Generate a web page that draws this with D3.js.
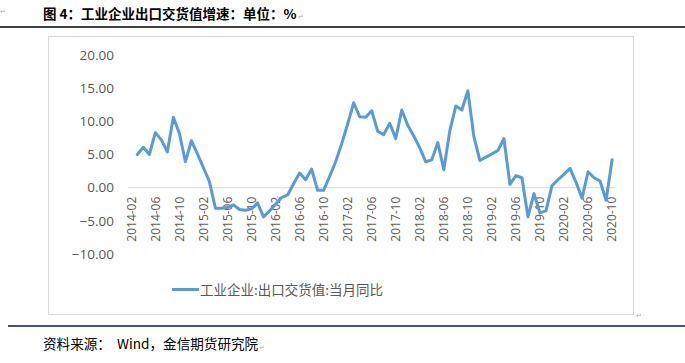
<!DOCTYPE html>
<html><head><meta charset="utf-8">
<script src="https://cdn.jsdelivr.net/npm/d3@7"></script>
<style>body{margin:0;background:#fff}svg{display:block}</style>
</head><body><svg id="c" width="685" height="363"></svg>
<script>
const titleText = "图 4：工业企业出口交货值增速：单位：%";
const sourceText = "资料来源：  Wind，金信期货研究院";
const seriesName = "工业企业:出口交货值:当月同比";
const categories = d3.timeMonths(new Date(2014,1,1), new Date(2020,10,1)).map(d3.timeFormat("%Y-%m"));
const tickLabels = ["2014-02","2014-06","2014-10","2015-02","2015-06","2015-10","2016-02","2016-06","2016-10",
  "2017-02","2017-06","2017-10","2018-02","2018-06","2018-10","2019-02","2019-06","2019-10","2020-02","2020-06","2020-10"];
const yTicks = [-10,-5,0,5,10,15,20];
const values = [null,5.0,6.1,5.0,8.3,7.2,5.4,10.6,8.2,3.9,7.1,5.1,3.0,0.9,-3.1,-3.1,-3.0,-2.6,-3.3,-3.4,-3.2,-2.3,-4.4,-3.5,
  -2.5,-1.5,-1.1,0.6,2.2,1.2,2.8,-0.4,-0.4,1.7,3.9,6.6,9.6,12.8,10.7,10.6,11.6,8.5,8.0,9.7,7.4,11.7,9.4,7.8,
  6.0,3.9,4.2,6.8,2.7,8.6,12.3,11.7,14.6,7.7,4.1,4.6,5.1,5.6,7.4,0.5,1.8,1.5,-4.4,-0.9,-3.8,-3.5,0.3,1.2,
  2.0,2.9,0.8,-1.6,2.4,1.5,1.0,-1.9,4.2];

const svg = d3.select("#c");
const font = "'Noto Sans CJK SC', 'Open Sans', sans-serif";
const gray = "#595959";

function mark(xp, yp){
  svg.append("text").attr("x",xp).attr("y",yp).attr("font-size",7).attr("fill","#aaa").attr("font-family",font).text("↵");
}

// top rule and title
svg.append("line").attr("x1",0).attr("x2",685).attr("y1",27).attr("y2",27).attr("stroke","#000").attr("stroke-width",1.5);
const title = svg.append("text").attr("x",43).attr("y",19).attr("font-family",font).attr("font-weight",700)
  .attr("font-size",13.5).attr("fill","#000").attr("xml:space","preserve").style("white-space","pre").text(titleText);
mark(43 + title.node().getComputedTextLength() + 1, 19);
mark(0, 14);

// chart frame
svg.append("rect").attr("x",48.5).attr("y",36.5).attr("width",585).attr("height",278)
  .attr("fill","#fff").attr("stroke","#d9d9d9").attr("stroke-width",1);
mark(636, 318);

const x = d3.scaleBand().domain(categories).range([128.3,615.1]).padding(0);
const y = d3.scaleLinear().domain([-10,20]).range([254,55]);
const cx = c => x(c) + x.bandwidth()/2;

// y axis labels
const yAxis = d3.axisLeft(y).tickValues(yTicks).tickFormat(d3.format(".2f")).tickSize(0).tickPadding(0);
const gy = svg.append("g").attr("transform","translate(114,0)").call(yAxis);
gy.select(".domain").remove();
gy.selectAll("text").attr("font-family","'Open Sans', sans-serif").attr("font-size",13.5).attr("fill",gray);

// zero axis line
svg.append("line").attr("x1",x.range()[0]).attr("x2",x.range()[1]).attr("y1",y(0)).attr("y2",y(0))
  .attr("stroke","#d9d9d9").attr("stroke-width",1);

// x labels
const xAxis = d3.axisBottom(x).tickValues(tickLabels).tickSize(0).tickPadding(0);
const gx = svg.append("g").attr("transform",`translate(0,${y(0)})`).call(xAxis);
gx.select(".domain").remove();
gx.selectAll("text").attr("font-family","'Open Sans', sans-serif").attr("font-size",12).attr("fill",gray)
  .attr("transform","translate(0,9) rotate(-90)").attr("text-anchor","end").attr("dy","0.35em").attr("y",0).attr("x",0);

// series line
const line = d3.line().defined(d => d.v != null).x(d => cx(d.c)).y(d => y(d.v));
const data = categories.map((c,i) => ({c, v: values[i]}));
svg.append("path").datum(data).attr("d",line).attr("fill","none").attr("stroke","#5B9BD5")
  .attr("stroke-width",3).attr("stroke-linejoin","round").attr("stroke-linecap","round");

// legend
svg.append("line").attr("x1",172).attr("x2",199).attr("y1",289.5).attr("y2",289.5).attr("stroke","#5B9BD5").attr("stroke-width",3);
svg.append("text").attr("x",200).attr("y",294.5).attr("font-family",font).attr("font-size",13.5).attr("fill",gray).text(seriesName);

// bottom rule and source
svg.append("line").attr("x1",8).attr("x2",685).attr("y1",326).attr("y2",326).attr("stroke","#0b1450").attr("stroke-width",1.5);
const src = svg.append("text").attr("x",43).attr("y",349).attr("font-family",font).attr("font-size",13.6).attr("fill","#000")
  .attr("xml:space","preserve").style("white-space","pre").text(sourceText);
mark(43 + src.node().getComputedTextLength() + 1, 350);
</script></body></html>
